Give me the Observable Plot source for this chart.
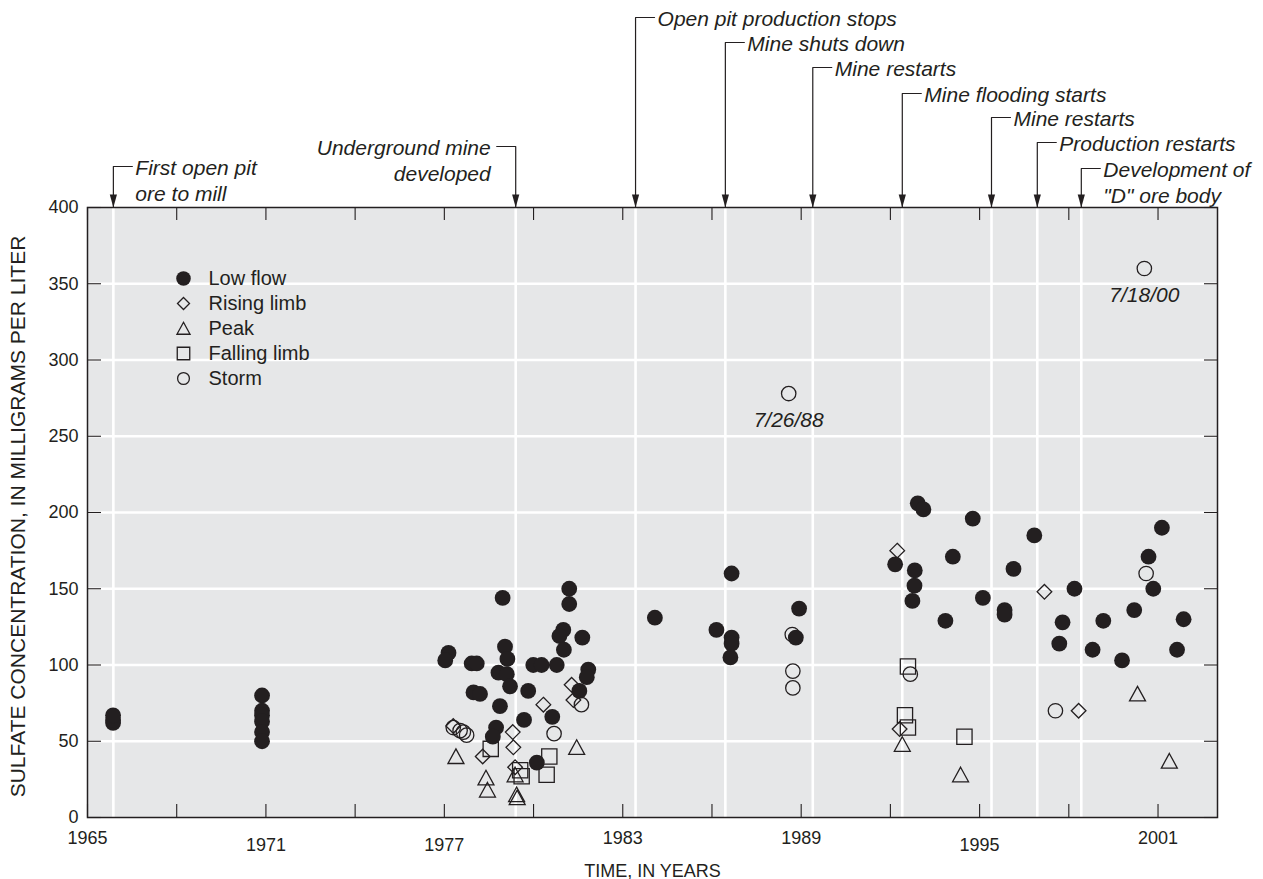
<!DOCTYPE html>
<html><head><meta charset="utf-8">
<script src="https://cdn.jsdelivr.net/npm/d3@7"></script>
<script src="https://cdn.jsdelivr.net/npm/@observablehq/plot@0.6"></script>
<style>
body{margin:0;background:#fff;}
#wrap{position:relative;width:1263px;height:879px;}
#legend{position:absolute;left:150px;top:250px;}
</style></head><body><div id="wrap"></div>
<script>
// ---------------- DATA ----------------
const categories = ["Low flow", "Rising limb", "Peak", "Falling limb", "Storm"];

const lowFlowYear = [1965.86, 1965.86, 1965.86,
  1970.87, 1970.87, 1970.87, 1970.87, 1970.87, 1970.87,
  1978.96, 1981.20, 1981.20, 1981.00, 1980.87, 1981.64, 1981.02, 1977.14, 1977.03, 1977.92,
  1978.09, 1979.04, 1979.12, 1978.82, 1979.10, 1979.99, 1980.27, 1980.78, 1981.84, 1981.79,
  1977.98, 1978.20, 1979.21, 1979.82, 1981.54, 1978.87, 1979.68, 1980.63, 1978.74, 1978.63,
  1980.11, 1984.08, 1986.66, 1986.15, 1986.66, 1986.66, 1986.62, 1988.93, 1988.82,
  1992.92, 1993.11, 1994.77, 1996.84, 1992.16, 1994.10, 1992.82, 1992.81, 1992.74, 1996.14,
  1995.11, 1995.84, 1995.84, 1993.85, 1997.79, 1997.68, 1998.19, 1999.16, 1998.80, 2000.20,
  1999.79, 2001.13, 2000.68, 2000.84, 2001.86, 2001.64];
const lowFlowValue = [62, 64, 67,
  80, 70, 67, 63, 56, 50,
  144, 150, 140, 123, 119, 118, 110, 108, 103, 101,
  101, 112, 104, 95, 94, 100, 100, 100, 97, 92,
  82, 81, 86, 83, 83, 73, 64, 66, 59, 53,
  36, 131, 160, 123, 118, 114, 105, 137, 118,
  206, 202, 196, 185, 166, 171, 162, 152, 142, 163,
  144, 136, 133, 129, 128, 114, 150, 129, 110, 136,
  103, 190, 171, 150, 130, 110];

const risingYear = [1977.30, 1979.30, 1979.32, 1978.29, 1980.33, 1981.28, 1981.34, 1979.38, 1992.23, 1992.31, 1997.18, 1998.33];
const risingValue = [60, 56, 46, 40, 74, 87, 77, 33, 175, 58, 148, 70];

const peakYear = [1977.39, 1978.40, 1978.45, 1979.43, 1979.45, 1979.38, 1981.45, 1992.40, 1994.36, 2000.31, 2001.38];
const peakValue = [40, 26, 18, 15, 13, 28, 46, 48, 28, 81, 37];

const fallingYear = [1978.56, 1979.55, 1979.60, 1980.53, 1980.44, 1992.59, 1992.49, 1992.59, 1994.49];
const fallingValue = [45, 31, 27, 40, 28, 99, 67, 59, 53];

const stormYear = [1977.30, 1977.53, 1977.64, 1977.75, 1981.61, 1980.69, 1988.58, 1988.70, 1988.72, 1988.72, 1992.67, 1997.55, 2000.54, 2000.60];
const stormValue = [59, 57, 56, 54, 74, 55, 278, 120, 96, 85, 94, 70, 360, 160];

const stormDateLabels = [{year: 1988.58, text: "7/26/88"}, {year: 2000.54, text: "7/18/00"}];

const eventYear = [1965.87, 1979.40, 1983.43, 1986.45, 1989.39, 1992.40, 1995.40, 1996.94, 1998.42];
const eventText = ["First open pit\nore to mill", "Underground mine\ndeveloped", "Open pit production stops",
  "Mine shuts down", "Mine restarts", "Mine flooding starts", "Mine restarts", "Production restarts",
  "Development of\n\"D\" ore body"];

const yTicks = [0, 50, 100, 150, 200, 250, 300, 350, 400];
const xTicks = [1965, 1968, 1971, 1974, 1977, 1980, 1983, 1986, 1989, 1992, 1995, 1998, 2001];
const xLabelsHigh = [1965, 1983, 1989, 2001];
const xLabelsLow = [1971, 1977, 1995];

// ---------------- LAYOUT ----------------
const W = 1263, H = 879, mL = 87, mR = 46, mT = 207, mB = 62;
const plotW = W - mL - mR, plotH = H - mT - mB;
const X0 = 1965, X1 = 2003, Y0 = 0, Y1 = 400;
const perPxY = (Y1 - Y0) / plotH, perPxX = (X1 - X0) / plotW;
const ink = "#231f20", bg = "#e6e7e8";
const font = "'Liberation Sans', Arial, Helvetica, sans-serif";
const annoSize = 21, tickSize = 18, legendSize = 20, titleSize = 18;

// annotation rows (pixel row of first text line) and bracket side
const eventRowPx = [166, 146, 17, 42, 67, 93, 117, 142, 168];
const eventSide = [1, -1, 1, 1, 1, 1, 1, 1, 1];
const hookPx = 19, lineGapPx = 26;
const toY = px => Y1 + (mT - px) * perPxY;

const pts = (ys, vs, cat) => ys.map((x, i) => ({year: x, value: vs[i], cat}));
const lowFlow = pts(lowFlowYear, lowFlowValue, categories[0]);
const rising = pts(risingYear, risingValue, categories[1]);
const peak = pts(peakYear, peakValue, categories[2]);
const falling = pts(fallingYear, fallingValue, categories[3]);
const storm = pts(stormYear, stormValue, categories[4]);
const stormLabeled = stormDateLabels.map(l => {
  const p = storm.find(s => s.year === l.year);
  return {...p, text: l.text};
});

const events = eventYear.map((y, i) => {
  const nLines = eventText[i].split("\n").length;
  return {year: y, text: eventText[i], side: eventSide[i], row: eventRowPx[i], nLines};
});
const bracket = events.flatMap((e, i) => [
  {id: i, x: e.year + e.side * hookPx * perPxX, y: toY(e.row)},
  {id: i, x: e.year, y: toY(e.row)},
  {id: i, x: e.year, y: Y1}
]);

// symbols
const triSym = {draw(ctx, size) {
  const r = Math.sqrt(size / Math.PI);
  ctx.moveTo(0, -r * 1.0); ctx.lineTo(r * 1.05, r * 0.92); ctx.lineTo(-r * 1.05, r * 0.92); ctx.closePath();
}};
const arrowSym = {draw(ctx) {
  ctx.moveTo(0, 0); ctx.lineTo(3.6, -13); ctx.lineTo(-3.6, -13); ctx.closePath();
}};
function catStyle(cat, k) {
  switch (cat) {
    case "Low flow": return {symbol: "circle", r: 7.9 * k, fill: ink, stroke: "none"};
    case "Rising limb": return {symbol: "diamond2", r: 6.6 * k, fill: "none", stroke: ink, strokeWidth: 1.3};
    case "Peak": return {symbol: triSym, r: 7.6 * k, fill: "none", stroke: ink, strokeWidth: 1.3};
    case "Falling limb": return {symbol: "square", r: 8.6 * k, fill: "none", stroke: ink, strokeWidth: 1.3};
    case "Storm": return {symbol: "circle", r: 7.2 * k, fill: "none", stroke: ink, strokeWidth: 1.3};
  }
}
const xy = {x: "year", y: "value"};

const textBase = {fontSize: annoSize, fontStyle: "italic", fill: ink, lineHeight: lineGapPx / annoSize, lineAnchor: "middle"};

const chart = Plot.plot({
  width: W, height: H,
  marginLeft: mL, marginRight: mR, marginTop: mT, marginBottom: mB,
  x: {domain: [X0, X1], axis: null},
  y: {domain: [Y0, Y1], axis: null},
  style: {fontFamily: font, color: ink, background: "#fff", overflow: "visible"},
  marks: [
    Plot.frame({fill: bg, stroke: "none"}),
    Plot.ruleY(yTicks.filter(t => t > Y0 && t < Y1), {y: d => d, stroke: "#fff", strokeWidth: 2.6}),
    Plot.ruleX(events, {x: "year", stroke: "#fff", strokeWidth: 2.6}),
    // inward ticks on all four sides
    Plot.ruleX(xTicks, {x: d => d, insetTop: plotH - 13, stroke: ink, strokeWidth: 1.1}),
    Plot.ruleX(xTicks, {x: d => d, insetBottom: plotH - 13, stroke: ink, strokeWidth: 1.1}),
    Plot.ruleY(yTicks, {y: d => d, insetRight: plotW - 14, stroke: ink, strokeWidth: 1.1}),
    Plot.ruleY(yTicks, {y: d => d, insetLeft: plotW - 13, stroke: ink, strokeWidth: 1.1}),
    Plot.frame({stroke: ink, strokeWidth: 1.5}),
    // data
    Plot.dot(storm, {...xy, ...catStyle("Storm", 1)}),
    Plot.dot(falling, {...xy, ...catStyle("Falling limb", 1)}),
    Plot.dot(peak, {...xy, ...catStyle("Peak", 1)}),
    Plot.dot(rising, {...xy, ...catStyle("Rising limb", 1)}),
    Plot.dot(lowFlow, {...xy, ...catStyle("Low flow", 1)}),
    Plot.text(stormLabeled, {...xy, text: "text", dy: 27, fontSize: annoSize, fontStyle: "italic", fill: ink}),
    // event annotations
    Plot.line(bracket, {x: "x", y: "y", z: "id", stroke: ink, strokeWidth: 1.2}),
    Plot.dot(events, {x: "year", y: () => Y1, symbol: arrowSym, r: 4, fill: ink, stroke: "none"}),
    Plot.text(events.filter(e => e.side > 0), {
      ...textBase,
      x: e => e.year + (hookPx + 3) * perPxX,
      y: e => toY(e.row + (e.nLines - 1) * lineGapPx / 2),
      text: "text", textAnchor: "start"
    }),
    Plot.text(events.filter(e => e.side < 0), {
      ...textBase,
      x: e => e.year - (hookPx + 6) * perPxX,
      y: e => toY(e.row + (e.nLines - 1) * lineGapPx / 2),
      text: "text", textAnchor: "end"
    }),
    // tick labels
    Plot.text(yTicks, {y: d => d, text: d => String(d), frameAnchor: "left", dx: -9, textAnchor: "end", lineAnchor: "middle", fontSize: tickSize, fill: ink}),
    Plot.text(xLabelsHigh, {x: d => d, text: d => String(d), frameAnchor: "bottom", dy: 21, lineAnchor: "middle", fontSize: tickSize, fill: ink}),
    Plot.text(xLabelsLow, {x: d => d, text: d => String(d), frameAnchor: "bottom", dy: 28, lineAnchor: "middle", fontSize: tickSize, fill: ink}),
    // axis titles
    Plot.text(["TIME, IN YEARS"], {text: d => d, frameAnchor: "bottom", dy: 54, lineAnchor: "middle", fontSize: titleSize, fill: ink}),
    Plot.text(["SULFATE CONCENTRATION, IN MILLIGRAMS PER LITER"], {text: d => d, frameAnchor: "left", dx: -69, dy: 4, textAnchor: "middle", rotate: -90, lineAnchor: "middle", fontSize: 21, fill: ink})
  ]
});

const legend = Plot.plot({
  width: 200, height: 130, margin: 0,
  x: {domain: [0, 1], range: [33, 58], axis: null},
  y: {type: "point", padding: 0, domain: categories, range: [27, 128], axis: null},
  style: {fontFamily: font, color: ink, background: "transparent", overflow: "visible"},
  marks: [
    ...categories.map(c => Plot.dot([c], {x: () => 0, y: d => d, ...catStyle(c, c === "Low flow" ? 0.92 : 0.82)})),
    Plot.text(categories, {x: () => 1, y: d => d, text: d => d, textAnchor: "start", lineAnchor: "middle", fontSize: legendSize, fill: ink})
  ]
});
legend.id = "legend";
const wrap = document.getElementById("wrap");
wrap.appendChild(chart);
wrap.appendChild(legend);
</script></body></html>
